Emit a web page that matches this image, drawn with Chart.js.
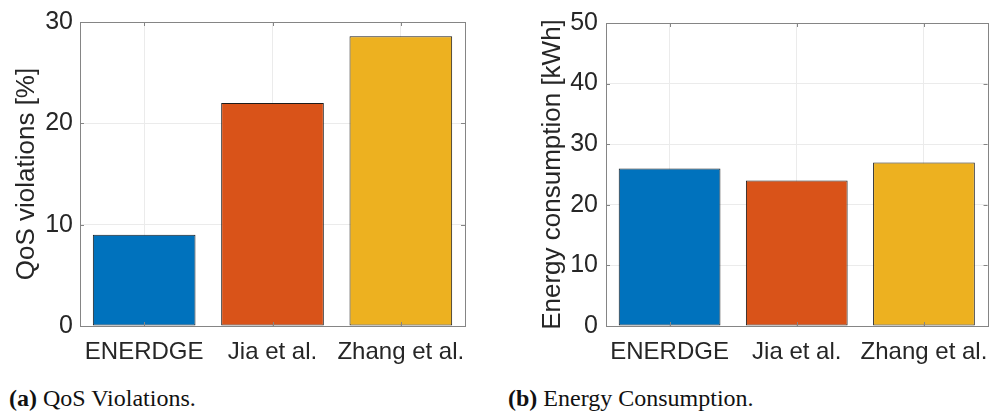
<!DOCTYPE html>
<html>
<head>
<meta charset="utf-8">
<script src="https://cdn.jsdelivr.net/npm/chart.js@4"></script>
<style>
  body { margin: 0; background: #fff; width: 1001px; height: 417px; overflow: hidden; position: relative; }
  .box { position: absolute; top: 0; height: 380px; }
  .caption { position: absolute; top: 386px; font-family: 'Liberation Serif', serif; font-size: 24px; line-height: 24px; color: #111; white-space: nowrap; }
</style>
</head>
<body>
<div class="box" style="left:0;width:500px"><canvas id="qosChart"></canvas></div>
<div class="box" style="left:500px;width:501px"><canvas id="energyChart"></canvas></div>
<div class="caption" style="left:9px"><b>(a)</b> QoS Violations.</div>
<div class="caption" style="left:508px"><b>(b)</b> Energy Consumption.</div>

<script>
// data
const methods = ['ENERDGE', 'Jia et al.', 'Zhang et al.'];
const qosViolations = [9, 22, 28.6];
const energyConsumption = [26, 24, 27];
const qosTicks = [0, 10, 20, 30];
const energyTicks = [0, 10, 20, 30, 40, 50];

// MATLAB default colour order
const barColors = ['#0072BD', '#D95319', '#EDB120'];
const textColor = '#262626';
const axisColor = '#858585';
const gridColor = '#ebebeb';
const fontFamily = "'Liberation Sans', Arial, Helvetica, sans-serif";

// box around the plot + inward ticks, like MATLAB "box on"
const matlabBox = {
  id: 'matlabBox',
  afterDatasetsDraw(chart) {
    const { ctx, chartArea: a } = chart;
    const tl = 4;
    ctx.save();
    ctx.strokeStyle = axisColor;
    ctx.lineWidth = 1;
    ctx.beginPath();
    chart.scales.y.ticks.forEach((t, i) => {
      const y = Math.round(chart.scales.y.getPixelForTick(i)) + 0.5;
      ctx.moveTo(a.left, y); ctx.lineTo(a.left + tl, y);
      ctx.moveTo(a.right, y); ctx.lineTo(a.right - tl, y);
    });
    chart.scales.x.ticks.forEach((t, i) => {
      const x = Math.round(chart.scales.x.getPixelForTick(i)) + 0.5;
      ctx.moveTo(x, a.bottom); ctx.lineTo(x, a.bottom - tl);
      ctx.moveTo(x, a.top); ctx.lineTo(x, a.top + tl);
    });
    ctx.stroke();
    ctx.strokeRect(Math.round(a.left) + 0.5, Math.round(a.top) + 0.5,
      Math.round(a.right - a.left), Math.round(a.bottom - a.top));
    ctx.restore();
  }
};

const makeChart = (canvasId, values, tickValues, yTitle, yWidth, titlePad, tickPad, padRight) => {
  const canvas = document.getElementById(canvasId);
  return new Chart(canvas.getContext('2d'), {
    type: 'bar',
    data: {
      labels: methods,
      datasets: [{
        data: values,
        backgroundColor: barColors,
        borderColor: '#1c1c1c',
        borderWidth: 1,
        borderSkipped: false,
        categoryPercentage: 0.8,
        barPercentage: 1.0
      }]
    },
    options: {
      responsive: true,
      maintainAspectRatio: false,
      animation: false,
      events: [],
      layout: { padding: { left: 0, right: padRight, top: 17, bottom: 0 } },
      plugins: {
        legend: { display: false },
        tooltip: { enabled: false }
      },
      scales: {
        x: {
          grid: { offset: false, color: gridColor, drawTicks: false },
          border: { display: false },
          ticks: {
            color: textColor,
            font: { family: fontFamily, size: 24 },
            padding: 12,
            maxRotation: 0,
            autoSkip: false
          },
          afterFit: (scale) => { scale.height = 54; }
        },
        y: {
          min: tickValues[0],
          max: tickValues[tickValues.length - 1],
          afterBuildTicks: (scale) => { scale.ticks = tickValues.map(v => ({ value: v })); },
          grid: { color: gridColor, drawTicks: false },
          border: { display: false },
          ticks: {
            color: textColor,
            font: { family: fontFamily, size: 25 },
            padding: tickPad
          },
          title: {
            display: true,
            text: yTitle,
            color: textColor,
            font: { family: fontFamily, size: 26 },
            padding: { top: titlePad, bottom: 0 }
          },
          afterFit: (scale) => { scale.width = yWidth; }
        }
      }
    },
    plugins: [matlabBox]
  });
};

makeChart('qosChart', qosViolations, qosTicks, 'QoS violations [%]', 80, 11, 7, 35);
makeChart('energyChart', energyConsumption, energyTicks, 'Energy consumption [kWh]', 106, 37, 8, 10);
</script>
</body>
</html>
